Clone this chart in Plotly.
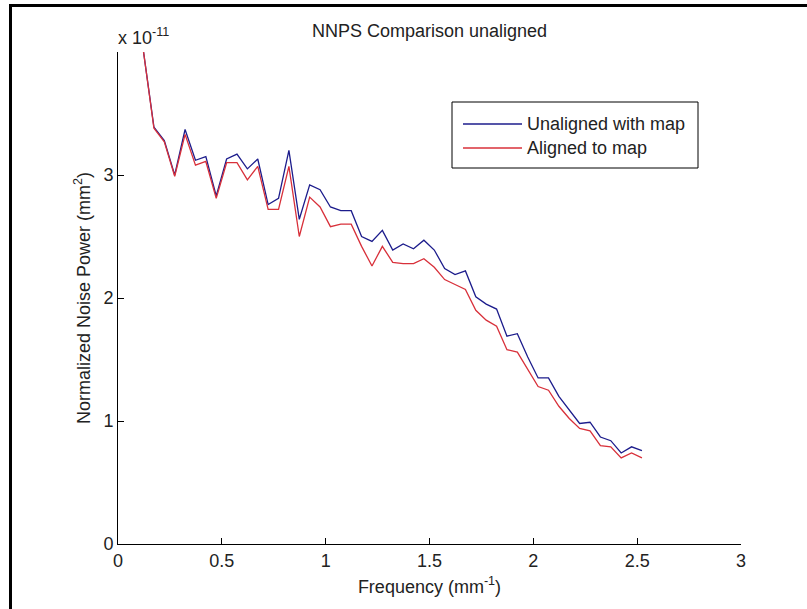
import plotly.graph_objects as go

# Spatial frequency samples (mm^-1)
freq = [0.123, 0.173, 0.223, 0.273, 0.323, 0.373, 0.423, 0.473, 0.523, 0.573,
        0.623, 0.673, 0.723, 0.773, 0.823, 0.873, 0.923, 0.973, 1.023, 1.073,
        1.123, 1.173, 1.223, 1.273, 1.323, 1.373, 1.423, 1.473, 1.523, 1.573,
        1.623, 1.673, 1.723, 1.773, 1.823, 1.873, 1.923, 1.973, 2.023, 2.073,
        2.123, 2.173, 2.223, 2.273, 2.323, 2.373, 2.423, 2.473, 2.523]

# Normalized noise power spectra, in units of 1e-11 mm^2
nnps_unaligned = [4.00, 3.39, 3.28, 3.00, 3.37, 3.12, 3.15, 2.83, 3.13, 3.17,
                  3.05, 3.13, 2.76, 2.81, 3.20, 2.64, 2.92, 2.88, 2.74, 2.71,
                  2.71, 2.50, 2.46, 2.55, 2.39, 2.44, 2.40, 2.47, 2.39, 2.24,
                  2.19, 2.22, 2.01, 1.95, 1.91, 1.69, 1.71, 1.52, 1.35, 1.35,
                  1.20, 1.09, 0.98, 0.99, 0.87, 0.84, 0.74, 0.79, 0.76]
nnps_aligned = [4.00, 3.38, 3.27, 2.99, 3.33, 3.08, 3.11, 2.81, 3.10, 3.10,
                2.96, 3.07, 2.72, 2.72, 3.07, 2.50, 2.82, 2.74, 2.58, 2.60,
                2.60, 2.42, 2.26, 2.42, 2.29, 2.28, 2.28, 2.32, 2.25, 2.15,
                2.11, 2.07, 1.90, 1.82, 1.77, 1.58, 1.56, 1.42, 1.28, 1.25,
                1.12, 1.02, 0.94, 0.92, 0.80, 0.79, 0.70, 0.74, 0.70]

series_names = ["Unaligned with map", "Aligned to map"]
series_colors = ["#1c1c8c", "#d8303a"]

x_ticks = [0, 0.5, 1, 1.5, 2, 2.5, 3]
x_ticktext = ["0", "0.5", "1", "1.5", "2", "2.5", "3"]
y_ticks = [0, 1, 2, 3]
y_ticktext = ["0", "1", "2", "3"]

W, H = 807, 609
L, R, T, B = 118, 66, 52, 65
pw, ph = W - L - R, H - T - B

def px_x(px):
    return (px - L) / pw

def px_y(py):
    return (H - B - py) / ph

font = dict(family="Liberation Sans, Arial, Helvetica, sans-serif", size=18, color="#222222")

fig = go.Figure()
for ys, name, col in zip([nnps_unaligned, nnps_aligned], series_names, series_colors):
    fig.add_trace(go.Scatter(x=freq, y=ys, mode="lines", name=name,
                             line=dict(color=col, width=1.3), showlegend=False))

axis_common = dict(showline=True, linecolor="black", linewidth=1, ticks="inside",
                   ticklen=6, tickcolor="black", tickwidth=1, showgrid=False,
                   zeroline=False, mirror=False, tickfont=font)

fig.update_layout(
    width=W, height=H,
    margin=dict(l=L, r=R, t=T, b=B, pad=0),
    paper_bgcolor="white", plot_bgcolor="white",
    font=font,
    xaxis=dict(range=[0, 3], tickvals=x_ticks, ticktext=x_ticktext,
               title=dict(text="Frequency (mm<sup>-1</sup>)", font=font, standoff=10),
               **axis_common),
    yaxis=dict(range=[0, 4], tickvals=y_ticks, ticktext=y_ticktext,
               title=dict(text="Normalized Noise Power (mm<sup>2</sup>)", font=font, standoff=8),
               **axis_common),
    showlegend=False,
)

# Chart title and axis exponent
fig.add_annotation(text="NNPS Comparison unaligned", xref="paper", yref="paper",
                   x=0.5, y=px_y(31), xanchor="center", yanchor="middle",
                   showarrow=False, font=font)
fig.add_annotation(text="x 10<sup>-11</sup>", xref="paper", yref="paper",
                   x=px_x(116), y=px_y(50), xanchor="left", yanchor="bottom",
                   showarrow=False, font=font)

# Legend box with line samples
box_l, box_r, box_t, box_b = 452, 698, 102, 168
row_y = [124, 148]
fig.add_shape(type="rect", xref="paper", yref="paper",
              x0=px_x(box_l), x1=px_x(box_r), y0=px_y(box_b), y1=px_y(box_t),
              line=dict(color="black", width=1), fillcolor="white", layer="above")
for ry, name, col in zip(row_y, series_names, series_colors):
    fig.add_shape(type="line", xref="paper", yref="paper",
                  x0=px_x(463), x1=px_x(522), y0=px_y(ry), y1=px_y(ry),
                  line=dict(color=col, width=1.3), layer="above")
    fig.add_annotation(text=name, xref="paper", yref="paper",
                       x=px_x(525), y=px_y(ry), xanchor="left", yanchor="middle",
                       showarrow=False, font=font)

# Outer figure frame (left and top edges)
fig.add_shape(type="path", xref="paper", yref="paper",
              path=f"M {px_x(10.5)},{px_y(620)} L {px_x(10.5)},{px_y(5.5)} L {px_x(820)},{px_y(5.5)}",
              line=dict(color="black", width=3), layer="above")

fig.write_html("out.html")
